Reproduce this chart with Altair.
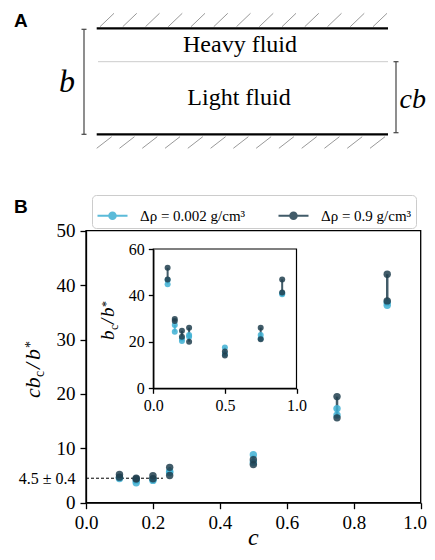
import altair as alt
import pandas as pd
import numpy as np

# ---------------- data ----------------
c_vals = [0.1, 0.15, 0.2, 0.25, 0.5, 0.75, 0.9]
groups = ["Δρ = 0.002 g/cm³", "Δρ = 0.9 g/cm³"]
colors = ["#3fb0d3", "#213f4f"]

# panel B main: c*b_c/b*  (low / high of each pair)
main_light_lo = [4.45, 3.65, 4.10, 5.55, 7.40, 16.1, 36.3]
main_light_hi = [4.65, 4.10, 4.30, 5.75, 8.80, 17.3, 36.8]
main_dark_lo = [4.70, 4.35, 4.40, 5.00, 7.00, 15.6, 37.1]
main_dark_hi = [5.20, 4.50, 4.95, 6.50, 7.90, 19.5, 42.0]

# inset: b_c/b*
inset_light_lo = [44.8, 24.4, 20.4, 22.2, 14.8, 21.5, 40.5]
inset_light_hi = [46.6, 27.3, 21.5, 23.0, 17.6, 23.0, 40.9]
inset_dark_lo = [46.9, 29.0, 22.2, 20.1, 14.1, 21.1, 41.3]
inset_dark_hi = [51.9, 29.8, 24.8, 26.1, 15.8, 26.1, 46.9]

plateau = 4.5
plateau_label = "4.5 ± 0.4"
plateau_c_end = 0.23

main_x_ticks = [0.0, 0.2, 0.4, 0.6, 0.8, 1.0]
main_y_ticks = [0, 4.5, 10, 20, 30, 40, 50]
inset_x_ticks = [0.0, 0.5, 1.0]
inset_y_ticks = [0, 20, 40, 60]

# ---------------- layout ----------------
SERIF = "Liberation Serif"
SANS = "Liberation Sans"
W, H = 419, 544

rows = []
for g, lo, hi, ilo, ihi in [
    (groups[0], main_light_lo, main_light_hi, inset_light_lo, inset_light_hi),
    (groups[1], main_dark_lo, main_dark_hi, inset_dark_lo, inset_dark_hi),
]:
    for i, cv in enumerate(c_vals):
        rows.append(dict(g=g, c=cv, lo=lo[i], hi=hi[i], ilo=ilo[i], ihi=ihi[i]))
df = pd.DataFrame(rows)

sx_main = alt.Scale(domain=[0, 1], range=[78, 412.7], nice=False, zero=False)
sy_main = alt.Scale(domain=[0, 50], range=[494.7, 222.7], nice=False, zero=False)
sx_in = alt.Scale(domain=[0, 1], range=[145.3, 288.5], nice=False, zero=False)
sy_in = alt.Scale(domain=[0, 60], range=[380.3, 241], nice=False, zero=False)

common = dict(domainColor="black", domainWidth=1.3, tickWidth=1.3,
              labelColor="black", labelFont=SERIF, grid=False,
              labelFlush=False, labelBound=False, labelOverlap=False, zindex=1)

ax_main_x = alt.Axis(orient="bottom", values=main_x_ticks, format=".1f", labelFontSize=19, labelPadding=5,
                     labelOffset={"condition": {"test": "datum.value == 1", "value": -6}, "value": 0},
                     tickSize=6, tickColor="black", offset=494.7 - H, title=None, **common)
ax_main_y = alt.Axis(orient="left", values=main_y_ticks,
                     labelExpr=f"datum.value == {plateau} ? '{plateau_label}' : format(datum.value, 'd')",
                     labelFontSize={"condition": {"test": f"datum.value == {plateau}", "value": 16}, "value": 19},
                     tickColor={"condition": {"test": f"datum.value == {plateau}", "value": "transparent"}, "value": "black"},
                     tickSize=6, labelPadding=5, offset=-78, title=None, **common)
ax_in_x = alt.Axis(orient="bottom", values=inset_x_ticks, format=".1f", labelFontSize=16, labelPadding=4,
                   tickSize=5, tickColor="black", offset=380.3 - H, title=None, **common)
ax_in_y = alt.Axis(orient="left", values=inset_y_ticks, format="d", labelFontSize=16, labelPadding=4,
                   tickSize=5, tickColor="black", offset=-145.3, title=None, **common)


def XM(f):
    return alt.X(f, type="quantitative", scale=sx_main, axis=ax_main_x)


def YM(f):
    return alt.Y(f, type="quantitative", scale=sy_main, axis=ax_main_y)


def XI(f):
    return alt.X(f, type="quantitative", scale=sx_in, axis=ax_in_x)


def YI(f):
    return alt.Y(f, type="quantitative", scale=sy_in, axis=ax_in_y)


cscale = alt.Scale(domain=groups, range=colors)
sym = ("M-1,0L1,0"
       "M0.21,0A0.21,0.21 0 1,1 -0.21,0A0.21,0.21 0 1,1 0.21,0"
       "M0.09,0A0.09,0.09 0 1,1 -0.09,0A0.09,0.09 0 1,1 0.09,0")
legend = alt.Legend(orient="none", legendX=84, legendY=187, direction="horizontal", title=None,
                    symbolType=sym, symbolSize=900, symbolStrokeWidth=2.2,
                    labelFont=SERIF, labelFontSize=15, labelColor="black", labelOffset=11,
                    padding=4, columnPadding=28, strokeColor="#cccccc", cornerRadius=4,
                    fillColor="white")
col_leg = alt.Color("g:N", scale=cscale, legend=legend)
col = alt.Color("g:N", scale=cscale, legend=None)

base = alt.Chart(df)

# main panel
frame_main = alt.Chart(pd.DataFrame({"c": [0.0], "c2": [1.0], "v": [0.0], "v2": [50.0]})).mark_rect(
    fillOpacity=0, stroke="black", strokeWidth=1.3).encode(x=XM("c"), x2="c2", y=YM("v"), y2="v2")
dashed = alt.Chart(pd.DataFrame({"c": [0.0], "c2": [plateau_c_end], "v": [plateau]})).mark_rule(
    strokeDash=[3, 2], color="black", strokeWidth=1).encode(x=XM("c"), x2="c2", y=YM("v"))
rules_main = base.mark_rule(strokeWidth=2.5, opacity=0.85).encode(
    x=XM("c"), y=YM("lo"), y2="hi", color=col_leg)
pts_main = base.transform_fold(["lo", "hi"], as_=["end", "v"]).mark_circle(
    size=55, opacity=0.85).encode(x=XM("c"), y=YM("v:Q"), color=col)
main = alt.layer(frame_main, dashed, rules_main, pts_main)

# inset
frame_in = alt.Chart(pd.DataFrame({"c": [0.0], "c2": [1.0], "v": [0.0], "v2": [60.0]})).mark_rect(
    fillOpacity=0, stroke="black", strokeWidth=1.2).encode(x=XI("c"), x2="c2", y=YI("v"), y2="v2")
rules_in = base.mark_rule(strokeWidth=2, opacity=0.85).encode(
    x=XI("c"), y=YI("ilo"), y2="ihi", color=col)
pts_in = base.transform_fold(["ilo", "ihi"], as_=["end", "v"]).mark_circle(
    size=36, opacity=0.85).encode(x=XI("c"), y=YI("v:Q"), color=col)
inset = alt.layer(frame_in, rules_in, pts_in)

# schematic (panel A), pixel-space scales
px = alt.Scale(domain=[0, W], range=[0, W])
py = alt.Scale(domain=[0, H], range=[0, H])


def seg_layer(d, **kw):
    return alt.Chart(pd.DataFrame(d)).mark_rule(**kw).encode(
        x=alt.X("x:Q", scale=px, axis=None), x2="x2",
        y=alt.Y("y:Q", scale=py, axis=None), y2="y2")


tx = np.linspace(92, 365, 13)
bx = np.linspace(88.7, 362, 13)
hatch = {"x": list(tx) + list(bx),
         "x2": list(tx + 14) + list(bx + 15),
         "y": [18.7] * 13 + [140.3] * 13,
         "y2": [5.3] * 13 + [128.7] * 13}
walls = {"x": [88.7, 88.7], "x2": [380, 380], "y": [20.3, 126.3], "y2": [20.3, 126.3]}
iface = {"x": [90], "x2": [380], "y": [53.7], "y2": [53.7]}
brackets = {"x": [76, 73.5, 73.5, 388, 385.5, 385.5],
            "x2": [76, 78.5, 78.5, 388, 390.5, 390.5],
            "y": [21.3, 21.3, 126.3, 53.7, 53.7, 124.7],
            "y2": [126.3, 21.3, 126.3, 124.7, 53.7, 124.7]}
schem = alt.layer(
    seg_layer(hatch, color="#999999", strokeWidth=1),
    seg_layer(walls, color="black", strokeWidth=2.2),
    seg_layer(iface, color="#cccccc", strokeWidth=1),
    seg_layer(brackets, color="#444444", strokeWidth=1.2),
)

one = pd.DataFrame({"k": [0]})


def label(text, x, y, size, font=SERIF, style="normal", weight="normal", angle=0,
          align="left", color="black"):
    return alt.Chart(one).mark_text(text=text, fontSize=size, font=font, fontStyle=style,
                                    fontWeight=weight, angle=angle, align=align,
                                    baseline="alphabetic", color=color).encode(
        x=alt.value(x), y=alt.value(y))


texts = [
    label("A", 6, 19, 19, font=SANS, weight="bold"),
    label("B", 6, 205, 19, font=SANS, weight="bold"),
    label("Heavy fluid", 232, 43.7, 24, align="center"),
    label("Light fluid", 231, 97, 24, align="center"),
    label("b", 59, 84, 32, style="italic", align="center"),
    label("cb", 391.5, 100, 28, style="italic"),
    # main x title
    label("c", 245.4, 537, 24, style="italic", align="center"),
    # main y title: c b_c / b^*
    label("cb", 32, 390, 22, style="italic", angle=270),
    label("c", 36, 369, 14, angle=270),
    label("/", 32, 361, 22, style="italic", angle=270),
    label("b", 32, 352, 22, style="italic", angle=270),
    label("*", 27, 340, 14, angle=270),
    # inset y title: b_c / b^*
    label("b", 106, 332, 19, style="italic", angle=270),
    label("c", 109.5, 322, 12, angle=270),
    label("/", 106, 316, 19, style="italic", angle=270),
    label("b", 106, 309, 19, style="italic", angle=270),
    label("*", 102, 299, 12, angle=270),
]

chart = alt.layer(main, inset, schem, *texts).resolve_scale(
    x="independent", y="independent").properties(
    width=W, height=H, autosize=alt.AutoSizeParams(type="none"), padding=0
).configure_view(strokeWidth=0)

chart.save("out.html", embed_options={"renderer": "svg", "actions": False})
